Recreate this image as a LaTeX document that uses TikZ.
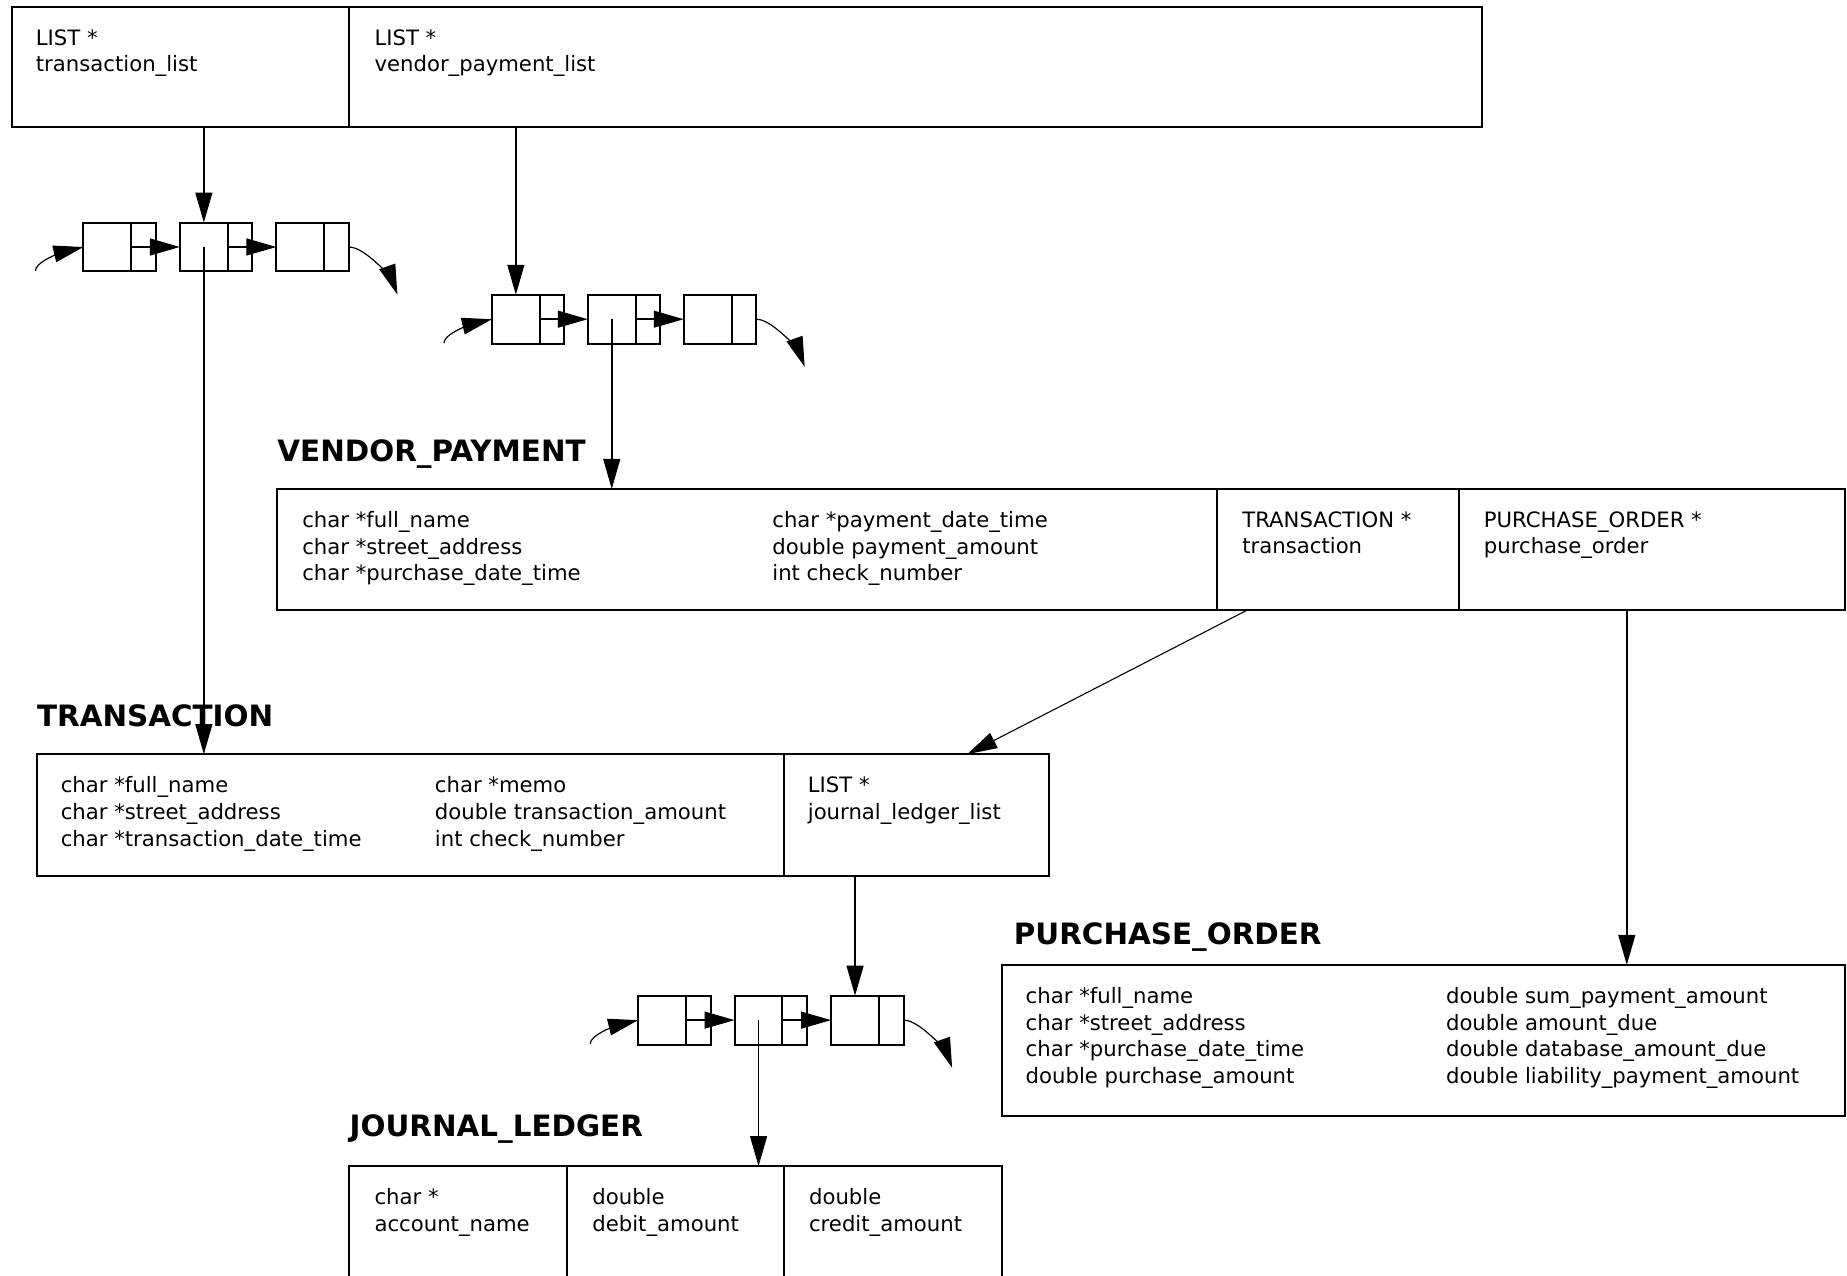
\documentclass[tikz,border=0pt]{standalone}
\usepackage{fontspec}
\setmainfont{DejaVu Sans}
\usetikzlibrary{arrows.meta, positioning, fit}

\begin{document}
\begin{tikzpicture}[x=59.2pt, y=59.2pt,
  cell/.style={draw, line width=1pt, inner sep=0pt, outer sep=0pt},
  listelem/.style={draw, line width=1pt, inner sep=0pt, outer sep=0pt, anchor=north west,
    minimum width=23.9pt, minimum height=24.4pt},
  listnext/.style={draw, line width=1pt, inner sep=0pt, outer sep=0pt,
    minimum width=12.3pt, minimum height=24.4pt, right=0pt of #1},
  field/.style={anchor=north west, align=left, inner sep=0pt,
    font=\fontsize{10.6pt}{13.4pt}\selectfont},
  title/.style={anchor=base west, inner sep=0pt,
    font=\fontsize{14.7pt}{17pt}\selectfont\bfseries},
  ptr/.style={line width=0.9pt, -{Triangle[length=15pt, width=8.4pt]}},
  endarrow/.style={line width=0.6pt, -{Triangle[length=15pt, width=8.4pt]}}]
  \useasboundingbox (0,0) rectangle (15.60,-10.777);

  % Top structure
  \node (lists-a) [cell, fit={(0.10,-0.06) (2.95,-1.07)}] {};
  \node (lists-b) [cell, fit={(2.95,-0.06) (12.52,-1.07)}] {};
  \node [field] at ([shift={(0.20,-0.185)}]lists-a.north west) {LIST *\\transaction\_list};
  \node [field] at ([shift={(0.21,-0.185)}]lists-b.north west) {LIST *\\vendor\_payment\_list};

  % List 1 (transactions)
  \node (l1a) [listelem] at (0.705,-1.88) {};
  \node (l1a-n) [listnext=l1a] {};
  \node (l1b) [listelem] at (1.52,-1.88) {};
  \node (l1b-n) [listnext=l1b] {};
  \node (l1c) [listelem] at (2.335,-1.88) {};
  \node (l1c-n) [listnext=l1c] {};
  \draw[ptr] (l1a-n.west) -- (l1b.west);
  \draw[ptr] (l1b-n.west) -- (l1c.west);
  \draw[endarrow] ([shift={(-0.405,-0.2025)}]l1a.west) .. controls +(0,0.10) and +(-0.078,-0.0185) .. (l1a.west);
  \draw[endarrow] (l1c-n.east) .. controls +(0.16,0) and +(-0.027,0.075) .. ([shift={(0.41,-0.4025)}]l1c-n.east);

  % List 2 (vendor payments)
  \node (l2a) [listelem] at (4.155,-2.49) {};
  \node (l2a-n) [listnext=l2a] {};
  \node (l2b) [listelem] at (4.965,-2.49) {};
  \node (l2b-n) [listnext=l2b] {};
  \node (l2c) [listelem] at (5.775,-2.49) {};
  \node (l2c-n) [listnext=l2c] {};
  \draw[ptr] (l2a-n.west) -- (l2b.west);
  \draw[ptr] (l2b-n.west) -- (l2c.west);
  \draw[endarrow] ([shift={(-0.405,-0.2025)}]l2a.west) .. controls +(0,0.10) and +(-0.078,-0.0185) .. (l2a.west);
  \draw[endarrow] (l2c-n.east) .. controls +(0.16,0) and +(-0.027,0.075) .. ([shift={(0.41,-0.4025)}]l2c-n.east);

  % VENDOR_PAYMENT
  \node (vp-title) [title] at (2.34,-3.90) {VENDOR\_PAYMENT};
  \node (vp-a) [cell, fit={(2.34,-4.13) (10.28,-5.15)}] {};
  \node (vp-b) [cell, fit={(10.28,-4.13) (12.32,-5.15)}] {};
  \node (vp-c) [cell, fit={(12.32,-4.13) (15.58,-5.15)}] {};
  \node [field] at ([shift={(0.21,-0.185)}]vp-a.north west)
    {char *full\_name\\char *street\_address\\char *purchase\_date\_time};
  \node [field] at ([shift={(4.18,-0.185)}]vp-a.north west)
    {char *payment\_date\_time\\double payment\_amount\\int check\_number};
  \node [field] at ([shift={(0.21,-0.185)}]vp-b.north west) {TRANSACTION *\\transaction};
  \node [field] at ([shift={(0.21,-0.185)}]vp-c.north west) {PURCHASE\_ORDER *\\purchase\_order};

  % TRANSACTION
  \node (tr-title) [title] at (0.31,-6.14) {TRANSACTION};
  \node (tr-a) [cell, fit={(0.31,-6.37) (6.62,-7.40)}] {};
  \node (tr-b) [cell, fit={(6.62,-6.37) (8.86,-7.40)}] {};
  \node [field] at ([shift={(0.20,-0.185)}]tr-a.north west)
    {char *full\_name\\char *street\_address\\char *transaction\_date\_time};
  \node [field] at ([shift={(3.36,-0.185)}]tr-a.north west)
    {char *memo\\double transaction\_amount\\int check\_number};
  \node [field] at ([shift={(0.20,-0.185)}]tr-b.north west) {LIST *\\journal\_ledger\_list};

  % List 3 (journal ledgers)
  \node (l3a) [listelem] at (5.39,-8.41) {};
  \node (l3a-n) [listnext=l3a] {};
  \node (l3b) [listelem] at (6.205,-8.41) {};
  \node (l3b-n) [listnext=l3b] {};
  \node (l3c) [listelem] at (7.02,-8.41) {};
  \node (l3c-n) [listnext=l3c] {};
  \draw[ptr] (l3a-n.west) -- (l3b.west);
  \draw[ptr] (l3b-n.west) -- (l3c.west);
  \draw[endarrow] ([shift={(-0.405,-0.2025)}]l3a.west) .. controls +(0,0.10) and +(-0.078,-0.0185) .. (l3a.west);
  \draw[endarrow] (l3c-n.east) .. controls +(0.16,0) and +(-0.027,0.075) .. ([shift={(0.41,-0.4025)}]l3c-n.east);

  % PURCHASE_ORDER
  \node (po-title) [title] at (8.56,-7.98) {PURCHASE\_ORDER};
  \node (po) [cell, fit={(8.46,-8.15) (15.58,-9.43)}] {};
  \node [field] at ([shift={(0.20,-0.185)}]po.north west)
    {char *full\_name\\char *street\_address\\char *purchase\_date\_time\\double purchase\_amount};
  \node [field] at ([shift={(3.75,-0.185)}]po.north west)
    {double sum\_payment\_amount\\double amount\_due\\double database\_amount\_due\\double liability\_payment\_amount};

  % JOURNAL_LEDGER
  \node (jl-title) [title] at (2.95,-9.60) {JOURNAL\_LEDGER};
  \node (jl-a) [cell, fit={(2.95,-9.85) (4.79,-11.20)}] {};
  \node (jl-b) [cell, fit={(4.79,-9.85) (6.62,-11.20)}] {};
  \node (jl-c) [cell, fit={(6.62,-9.85) (8.46,-11.20)}] {};
  \node [field] at ([shift={(0.21,-0.185)}]jl-a.north west) {char *\\account\_name};
  \node [field] at ([shift={(0.21,-0.185)}]jl-b.north west) {double\\debit\_amount};
  \node [field] at ([shift={(0.21,-0.185)}]jl-c.north west) {double\\credit\_amount};

  % Pointers between structures
  \coordinate (po-ptr) at ([shift={(1.42,0)}]vp-c.south west);
  \coordinate (tr-ptr) at ([shift={(0.26,0)}]vp-b.south west);
  \coordinate (tr-in) at ([shift={(1.55,0)}]tr-b.north west);
  \draw[ptr] (l1b.north |- lists-a.south) -- (l1b.north);
  \draw[ptr] (l2a.north |- lists-b.south) -- (l2a.north);
  \draw[ptr] (l1b.center) -- (l1b.center |- tr-a.north);
  \draw[ptr] (l2b.center) -- (l2b.center |- vp-a.north);
  \draw[ptr, line width=0.55pt] (tr-ptr) -- (tr-in);
  \draw[ptr] (po-ptr) -- (po-ptr |- po.north);
  \draw[ptr] (l3c.north |- tr-b.south) -- (l3c.north);
  \draw[ptr] (l3b.center) -- (l3b.center |- jl-b.north);
\end{tikzpicture}
\end{document}
